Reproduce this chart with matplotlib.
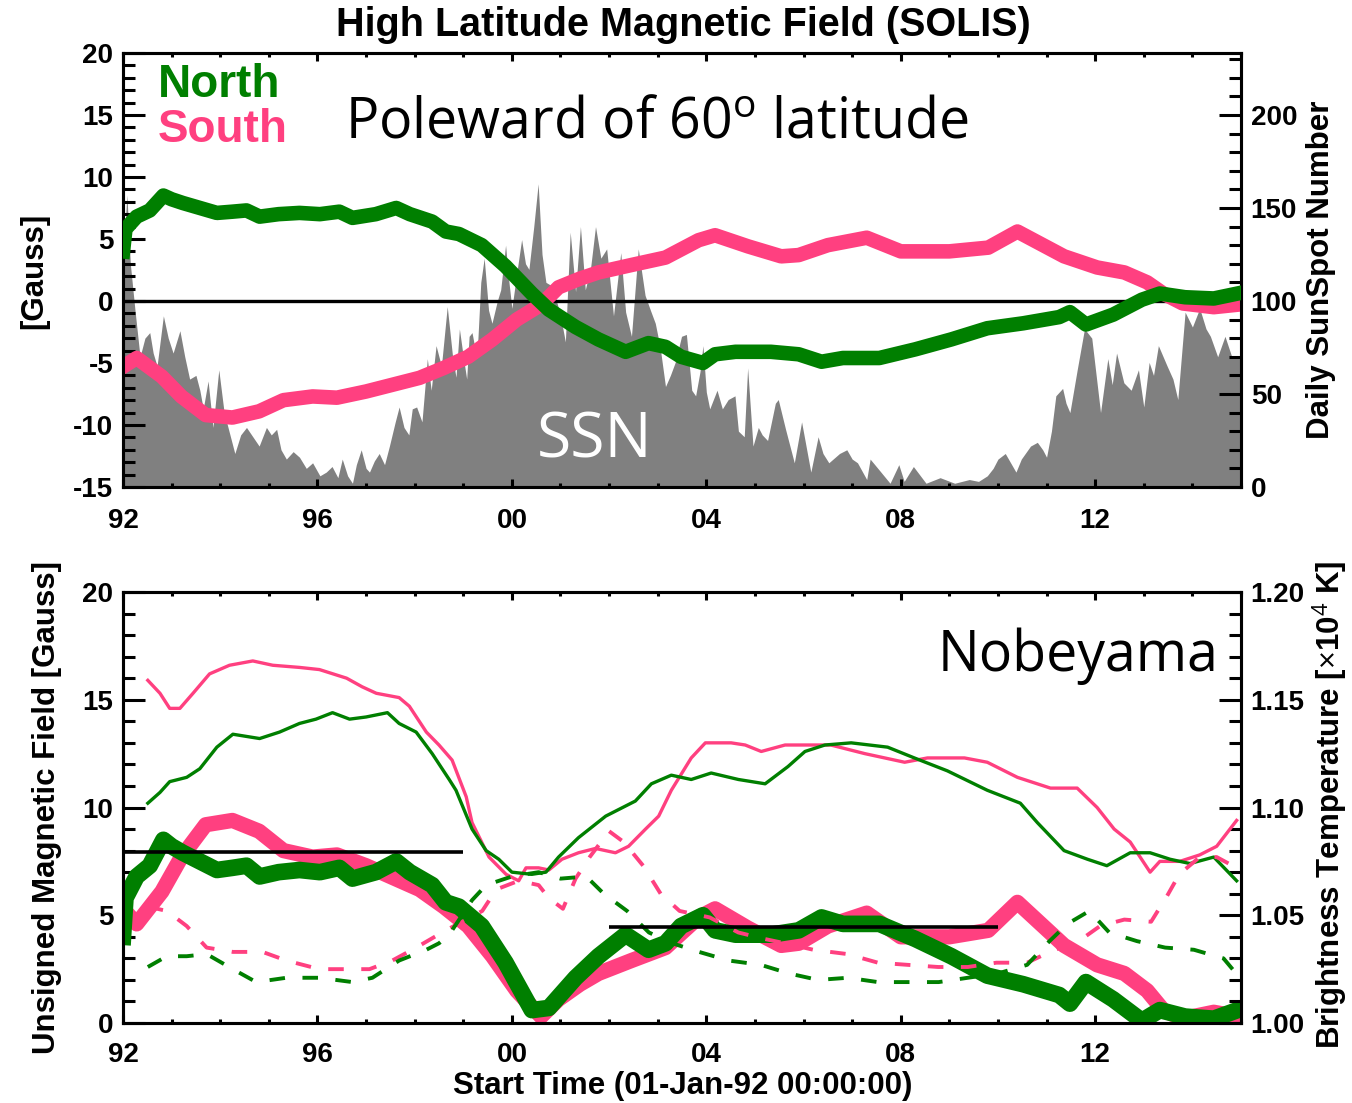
import numpy as np
import matplotlib.pyplot as plt
from matplotlib.ticker import MultipleLocator, FormatStrFormatter

plt.rcParams['font.family'] = 'Liberation Sans'
plt.rcParams['font.weight'] = 'bold'
plt.rcParams['axes.unicode_minus'] = False
plt.rcParams['mathtext.fontset'] = 'custom'
plt.rcParams['mathtext.rm'] = 'Open Sans:weight=normal'

green = '#007f00'
pink = '#ff4080'
grey = '#808080'

# daily sunspot number (top panel, right axis)
ssn_year = [1992.00, 1992.04, 1992.08, 1992.15, 1992.25, 1992.35, 1992.45, 1992.55, 1992.62, 1992.70,
            1992.83, 1992.93, 1993.03, 1993.17, 1993.27, 1993.37, 1993.50, 1993.58, 1993.65, 1993.75,
            1993.85, 1993.97, 1994.08, 1994.19, 1994.30, 1994.42, 1994.54, 1994.67, 1994.80, 1994.95,
            1995.05, 1995.16, 1995.25, 1995.36, 1995.50, 1995.63, 1995.77, 1995.90, 1996.05, 1996.18,
            1996.30, 1996.42, 1996.51, 1996.62, 1996.72, 1996.80, 1996.90, 1997.00, 1997.07, 1997.17,
            1997.27, 1997.38, 1997.48, 1997.60, 1997.68, 1997.78, 1997.88, 1997.95, 1998.04, 1998.15,
            1998.26, 1998.34, 1998.44, 1998.55, 1998.67, 1998.78, 1998.85, 1998.92, 1999.00, 1999.07,
            1999.12, 1999.18, 1999.28, 1999.36, 1999.43, 1999.52, 1999.59, 1999.70, 1999.77, 1999.87,
            1999.94, 2000.00, 2000.10, 2000.20, 2000.28, 2000.35, 2000.45, 2000.54, 2000.62, 2000.70,
            2000.83, 2000.96, 2001.05, 2001.10, 2001.20, 2001.31, 2001.41, 2001.51, 2001.62, 2001.72,
            2001.83, 2001.95, 2002.09, 2002.24, 2002.34, 2002.46, 2002.60, 2002.74, 2002.85, 2002.95,
            2003.05, 2003.16, 2003.26, 2003.36, 2003.49, 2003.59, 2003.70, 2003.78, 2003.87, 2003.93,
            2004.00, 2004.07, 2004.22, 2004.33, 2004.45, 2004.59, 2004.66, 2004.78, 2004.85, 2004.96,
            2005.07, 2005.15, 2005.26, 2005.42, 2005.48, 2005.63, 2005.72, 2005.81, 2005.96, 2006.15,
            2006.30, 2006.40, 2006.52, 2006.74, 2006.89, 2007.00, 2007.11, 2007.30, 2007.37, 2007.56,
            2007.78, 2007.96, 2008.07, 2008.26, 2008.52, 2008.81, 2009.11, 2009.41, 2009.60, 2009.78,
            2009.90, 2010.00, 2010.15, 2010.37, 2010.48, 2010.67, 2010.81, 2010.92, 2011.00, 2011.10,
            2011.19, 2011.33, 2011.40, 2011.48, 2011.63, 2011.78, 2011.93, 2012.02, 2012.11, 2012.26,
            2012.35, 2012.44, 2012.59, 2012.74, 2012.89, 2013.00, 2013.11, 2013.20, 2013.30, 2013.48,
            2013.60, 2013.70, 2013.85, 2014.00, 2014.15, 2014.28, 2014.37, 2014.52, 2014.67, 2014.81,
            2015.00]
ssn = [112, 140, 157, 120, 94, 70, 80, 83, 72, 65,
       92, 80, 72, 84, 70, 58, 60, 52, 42, 57,
       32, 63, 40, 29, 18, 28, 32, 27, 22, 32,
       28, 31, 20, 15, 19, 16, 10, 13, 6, 8,
       11, 5, 15, 6, 2, 12, 20, 10, 8, 14,
       18, 12, 22, 35, 43, 32, 28, 42, 43, 35,
       69, 52, 76, 65, 97, 70, 59, 85, 70, 58,
       81, 83, 69, 110, 123, 95, 88, 100, 106, 130,
       110, 96, 115, 133, 120, 117, 140, 163, 125, 110,
       108, 96, 85, 78, 137, 105, 140, 106, 118, 140,
       123, 128, 92, 126, 94, 81, 128, 103, 95, 88,
       75, 54, 60, 67, 81, 82, 52, 49, 62, 76,
       51, 42, 52, 42, 47, 49, 30, 27, 64, 22,
       32, 28, 25, 45, 47, 31, 22, 13, 35, 8,
       27, 18, 13, 18, 20, 15, 13, 4, 15, 9,
       2, 12, 3, 11, 2, 5, 2, 4, 3, 6,
       10, 15, 18, 8, 15, 22, 24, 20, 16, 30,
       49, 53, 45, 40, 63, 85, 80, 60, 40, 69,
       55, 72, 56, 52, 63, 43, 67, 60, 76, 65,
       58, 47, 94, 86, 96, 85, 81, 70, 81, 70,
       69]

# polar field poleward of 60 deg [Gauss]
north_year = [1992.00, 1992.05, 1992.28, 1992.55, 1992.83, 1993.00, 1993.23, 1993.58, 1993.93, 1994.25,
              1994.54, 1994.81, 1995.20, 1995.63, 1996.05, 1996.45, 1996.72, 1997.20, 1997.62, 1997.90,
              1998.36, 1998.64, 1998.91, 1999.38, 1999.87, 2000.41, 2000.76, 2001.31, 2001.78, 2002.34,
              2002.81, 2003.16, 2003.48, 2003.93, 2004.18, 2004.60, 2005.33, 2005.90, 2006.37, 2006.81,
              2007.56, 2008.30, 2009.04, 2009.78, 2010.52, 2011.26, 2011.48, 2011.81, 2012.37, 2012.96,
              2013.33, 2013.85, 2014.44, 2014.93]
north = [4.0, 5.8, 6.8, 7.3, 8.5, 8.2, 7.9, 7.5, 7.1, 7.2,
         7.3, 6.8, 7.0, 7.1, 7.0, 7.2, 6.7, 7.0, 7.5, 7.0,
         6.4, 5.6, 5.4, 4.5, 2.8, 0.6, -0.7, -2.1, -3.1, -4.1,
         -3.4, -3.7, -4.5, -5.0, -4.3, -4.1, -4.1, -4.3, -4.9, -4.6,
         -4.6, -3.9, -3.1, -2.2, -1.8, -1.3, -0.9, -1.9, -1.1, 0.1,
         0.6, 0.3, 0.2, 0.6]
south_year = [1992.00, 1992.28, 1992.80, 1993.20, 1993.70, 1994.25, 1994.80, 1995.30, 1995.90, 1996.40,
              1997.00, 1997.50, 1998.10, 1998.60, 1999.10, 1999.60, 2000.10, 2000.60, 2000.96, 2001.40,
              2001.78, 2002.46, 2003.16, 2003.84, 2004.18, 2004.86, 2005.54, 2005.90, 2006.50, 2007.30,
              2008.00, 2009.00, 2009.80, 2010.40, 2011.36, 2012.04, 2012.60, 2013.07, 2013.40, 2013.80,
              2014.44, 2014.93]
south = [-5.3, -4.6, -6.1, -7.7, -9.2, -9.4, -8.9, -8.0, -7.7, -7.8,
         -7.3, -6.8, -6.2, -5.4, -4.5, -3.1, -1.5, -0.3, 1.1, 1.8,
         2.3, 2.9, 3.5, 4.9, 5.3, 4.4, 3.6, 3.7, 4.5, 5.1,
         4.0, 4.0, 4.3, 5.6, 3.6, 2.7, 2.3, 1.5, 0.6, -0.2,
         -0.5, -0.3]

# Nobeyama brightness temperature [x10^4 K]
tb_north_year = [1992.51, 1992.76, 1992.96, 1993.31, 1993.58, 1993.93, 1994.26, 1994.81, 1995.22, 1995.63,
                 1995.97, 1996.31, 1996.66, 1997.00, 1997.44, 1997.68, 1998.03, 1998.36, 1998.71, 1998.85,
                 1999.18, 1999.47, 1999.73, 2000.00, 2000.41, 2000.70, 2000.96, 2001.37, 2001.93, 2002.54,
                 2002.87, 2003.28, 2003.69, 2004.10, 2004.66, 2005.21, 2005.68, 2006.03, 2006.44, 2006.98,
                 2007.73, 2008.28, 2008.96, 2009.78, 2010.46, 2010.81, 2011.36, 2011.84, 2012.24, 2012.72,
                 2013.13, 2013.54, 2013.95, 2014.44, 2014.91]
tb_north = [1.102, 1.107, 1.112, 1.114, 1.118, 1.128, 1.134, 1.132, 1.135, 1.139,
            1.141, 1.144, 1.141, 1.142, 1.144, 1.139, 1.135, 1.125, 1.113, 1.108,
            1.090, 1.080, 1.076, 1.070, 1.069, 1.070, 1.077, 1.086, 1.096, 1.103,
            1.111, 1.115, 1.113, 1.116, 1.113, 1.111, 1.119, 1.126, 1.129, 1.130,
            1.128, 1.123, 1.117, 1.108, 1.102, 1.093, 1.080, 1.076, 1.073, 1.079,
            1.079, 1.076, 1.074, 1.077, 1.066]
tb_south_year = [1992.51, 1992.76, 1992.96, 1993.17, 1993.44, 1993.78, 1994.19, 1994.67, 1995.08, 1995.63,
                 1996.04, 1996.60, 1996.92, 1997.21, 1997.68, 1997.89, 1998.24, 1998.50, 1998.77, 1999.06,
                 1999.18, 1999.53, 1999.88, 2000.14, 2000.29, 2000.55, 2000.76, 2001.03, 2001.37, 2001.72,
                 2002.13, 2002.40, 2002.75, 2003.02, 2003.28, 2003.69, 2003.98, 2004.51, 2004.80, 2005.13,
                 2005.62, 2006.56, 2007.26, 2008.08, 2008.55, 2009.31, 2009.78, 2010.40, 2011.08, 2011.63,
                 2012.04, 2012.39, 2012.72, 2013.13, 2013.33, 2013.74, 2014.15, 2014.50, 2014.91]
tb_south = [1.159, 1.153, 1.146, 1.146, 1.153, 1.162, 1.166, 1.168, 1.166, 1.165,
            1.164, 1.160, 1.156, 1.153, 1.151, 1.147, 1.135, 1.129, 1.122, 1.105,
            1.093, 1.077, 1.069, 1.066, 1.072, 1.072, 1.071, 1.076, 1.079, 1.081,
            1.079, 1.082, 1.090, 1.096, 1.108, 1.123, 1.130, 1.130, 1.129, 1.126,
            1.129, 1.129, 1.125, 1.121, 1.123, 1.123, 1.121, 1.114, 1.109, 1.109,
            1.100, 1.090, 1.084, 1.070, 1.075, 1.075, 1.078, 1.082, 1.094]
tb_north_pol_year = [1992.51, 1992.90, 1993.31, 1993.72, 1994.26, 1994.74, 1995.36, 1996.04, 1996.72, 1997.13,
                     1997.68, 1998.24, 1998.50, 1998.71, 1999.18, 1999.47, 2000.00, 2000.55, 2001.00, 2001.53,
                     2001.89, 2002.37, 2002.82, 2003.30, 2003.85, 2004.46, 2005.12, 2005.70, 2006.30, 2006.91,
                     2007.53, 2008.14, 2008.78, 2009.38, 2010.00, 2010.60, 2011.06, 2011.43, 2011.88, 2012.29,
                     2012.86, 2013.44, 2014.03, 2014.64, 2014.90]
tb_north_pol = [1.026, 1.031, 1.031, 1.032, 1.025, 1.019, 1.021, 1.021, 1.019, 1.021,
                1.029, 1.034, 1.037, 1.041, 1.057, 1.064, 1.068, 1.070, 1.067, 1.068,
                1.060, 1.052, 1.042, 1.037, 1.033, 1.029, 1.027, 1.023, 1.020, 1.021,
                1.019, 1.019, 1.019, 1.021, 1.023, 1.027, 1.038, 1.046, 1.052, 1.042,
                1.038, 1.035, 1.034, 1.030, 1.023]
tb_south_pol_year = [1992.51, 1992.90, 1993.31, 1993.72, 1994.26, 1994.87, 1995.36, 1996.04, 1996.60, 1997.07,
                     1997.54, 1998.03, 1998.64, 1999.06, 1999.39, 1999.68, 2000.14, 2000.55, 2000.76, 2001.05,
                     2001.31, 2001.60, 2002.00, 2002.30, 2002.70, 2003.06, 2003.45, 2004.07, 2004.66, 2005.20,
                     2005.62, 2006.20, 2006.90, 2007.53, 2008.14, 2008.77, 2009.38, 2009.97, 2010.60, 2011.16,
                     2011.60, 2012.10, 2012.60, 2013.15, 2013.48, 2013.73, 2014.15, 2014.50, 2014.91]
tb_south_pol = [1.054, 1.052, 1.045, 1.035, 1.033, 1.033, 1.029, 1.025, 1.025, 1.025,
                1.029, 1.035, 1.043, 1.048, 1.052, 1.062, 1.066, 1.064, 1.058, 1.053,
                1.067, 1.077, 1.089, 1.084, 1.073, 1.060, 1.052, 1.049, 1.042, 1.039,
                1.037, 1.034, 1.032, 1.028, 1.027, 1.026, 1.026, 1.028, 1.028, 1.034,
                1.037, 1.045, 1.048, 1.047, 1.059, 1.069, 1.077, 1.077, 1.072]

# mean levels drawn as black bars in lower panel
mean_start = [1992.0, 2002.0]
mean_end = [1999.0, 2010.0]
mean_level = [7.95, 4.45]

year_ticks = [1992, 1996, 2000, 2004, 2008, 2012]
year_labels = ['92', '96', '00', '04', '08', '12']


def style_x(ax, pad):
    ax.set_xlim(1992, 2015)
    ax.set_xticks(year_ticks)
    ax.set_xticklabels(year_labels)
    ax.xaxis.set_minor_locator(MultipleLocator(1))
    ax.tick_params(axis='x', which='both', direction='in', top=True, bottom=True,
                   width=2.2, labelsize=20, pad=pad)
    ax.tick_params(axis='x', which='major', length=6)
    ax.tick_params(axis='x', which='minor', length=3)


def style_y(ax, side):
    kw = dict(left=(side == 'left'), right=(side == 'right'))
    ax.tick_params(axis='y', which='both', direction='in', width=2.2,
                   labelsize=20, pad=7, labelleft=kw['left'], labelright=kw['right'], **kw)
    ax.tick_params(axis='y', which='major', length=16)
    ax.tick_params(axis='y', which='minor', length=8.5)
    for s in ax.spines.values():
        s.set_linewidth(2.2)


fig = plt.figure(figsize=(13.52, 11.03), dpi=100)

# ---------------- top panel ----------------
ax1 = fig.add_axes([0.0910, 0.5585, 0.8269, 0.3935])
ax1r = ax1.twinx()
ax1r.fill_between(ssn_year, 0, ssn, color=grey, lw=0)
ax1r.set_ylim(0, 233.33)
ax1r.set_yticks([0, 50, 100, 150, 200])
ax1r.yaxis.set_minor_locator(MultipleLocator(10))
style_y(ax1r, 'right')

ax1.set_zorder(ax1r.get_zorder() + 1)
ax1.patch.set_visible(False)
ax1.axhline(0, color='k', lw=2.4, zorder=1)
ax1.plot(south_year, south, color=pink, lw=10.5, zorder=2)
ax1.plot(north_year, north, color=green, lw=10.5, zorder=3)
ax1.set_ylim(-15, 20)
ax1.set_yticks([-15, -10, -5, 0, 5, 10, 15, 20])
ax1.yaxis.set_minor_locator(MultipleLocator(1))
style_y(ax1, 'left')
style_x(ax1, 15)

fig.text(158 / 1352, 1 - 97 / 1103, 'North', color=green, fontsize=33, fontweight='bold', va='baseline')
fig.text(158 / 1352, 1 - 142 / 1103, 'South', color=pink, fontsize=33, fontweight='bold', va='baseline')
fig.text(345 / 1352, 1 - 138 / 1103, r'Poleward of 60$^{\mathrm{o}}$ latitude', family='Open Sans',
         fontweight='normal', fontsize=40, va='baseline')
fig.text(537 / 1352, 1 - 457 / 1103, 'SSN', family='Open Sans', fontweight='normal', fontsize=45,
         color='white', va='baseline')

# ---------------- bottom panel ----------------
ax2 = fig.add_axes([0.0910, 0.0725, 0.8269, 0.3908])
ax2.plot(south_year, np.abs(south), color=pink, lw=11, zorder=2)
ax2.plot(north_year, np.abs(north), color=green, lw=12, zorder=3)
ax2.set_ylim(0, 20)
ax2.set_yticks([0, 5, 10, 15, 20])
ax2.yaxis.set_minor_locator(MultipleLocator(1))
style_y(ax2, 'left')
style_x(ax2, 14)

ax2r = ax2.twinx()
ax2r.plot(tb_south_year, tb_south, color=pink, lw=2.4)
ax2r.plot(tb_north_year, tb_north, color=green, lw=2.4)
ax2r.plot(tb_south_pol_year, tb_south_pol, color=pink, lw=2.8, dashes=(4, 4.5))
ax2r.plot(tb_north_pol_year, tb_north_pol, color=green, lw=2.8, dashes=(4, 4.5))
ax2r.hlines(mean_level, mean_start, mean_end, colors='k', lw=2.6, transform=ax2.transData)
ax2r.set_ylim(1.0, 1.2)
ax2r.set_yticks([1.00, 1.05, 1.10, 1.15, 1.20])
ax2r.yaxis.set_major_formatter(FormatStrFormatter('%.2f'))
ax2r.yaxis.set_minor_locator(MultipleLocator(0.01))
style_y(ax2r, 'right')
ax2r.set_xlim(1992, 2015)

fig.text(938 / 1352, 1 - 671 / 1103, 'Nobeyama', family='Open Sans', fontweight='normal', fontsize=40,
         va='baseline')

# ---------------- labels ----------------
fig.text(683 / 1352, 1 - 25 / 1103, 'High Latitude Magnetic Field (SOLIS)', fontsize=28.5,
         ha='center', va='center')
fig.text(34 / 1352, 1 - 271 / 1103, '[Gauss]', fontsize=22.5, rotation=90, ha='center', va='center')
fig.text(1321 / 1352, 1 - 270 / 1103, 'Daily SunSpot Number', fontsize=22.5, rotation=90,
         ha='center', va='center')
fig.text(47 / 1352, 1 - 808 / 1103, 'Unsigned Magnetic Field [Gauss]', fontsize=22.5, rotation=90,
         ha='center', va='center')
fig.text(1330 / 1352, 1 - 805 / 1103, r'Brightness Temperature [$\times$10$^4$ K]', fontsize=22.5,
         rotation=90, ha='center', va='center')
fig.text(683 / 1352, 1 - 1086 / 1103, 'Start Time (01-Jan-92 00:00:00)', fontsize=22.5,
         ha='center', va='center')

fig.savefig('out.png', dpi=100)
